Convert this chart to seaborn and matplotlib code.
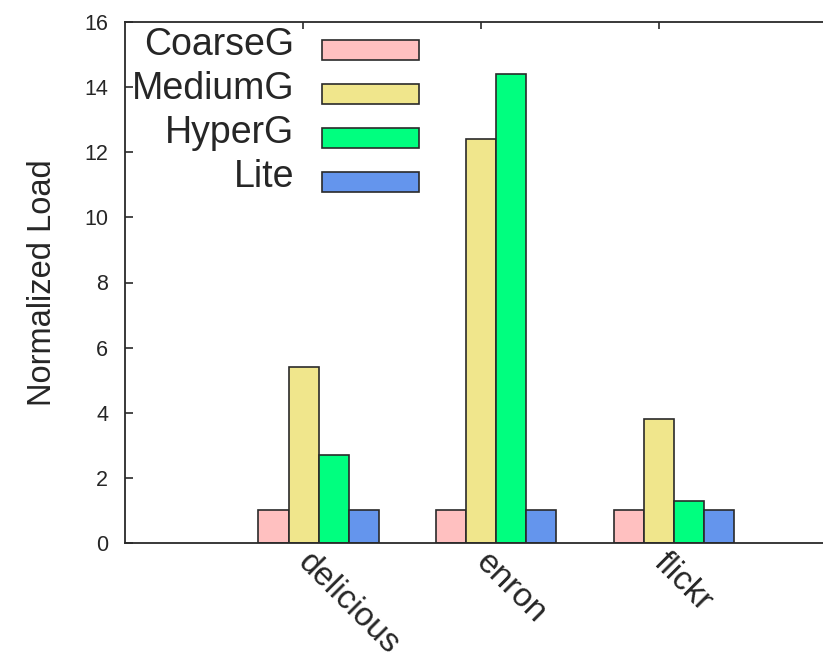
import numpy as np
import pandas as pd
import matplotlib
matplotlib.use("Agg")
import matplotlib.pyplot as plt
import matplotlib.patches as mpatches
from matplotlib.legend_handler import HandlerPatch
import seaborn as sns

# Normalized load per dataset for each partitioning scheme
datasets = ["delicious", "enron", "flickr"]
schemes = ["CoarseG", "MediumG", "HyperG", "Lite"]
coarse_g = [1.0, 1.0, 1.0]
medium_g = [5.4, 12.4, 3.8]
hyper_g = [2.7, 14.4, 1.3]
lite = [1.0, 1.0, 1.0]
colors = ["#FFC0C0", "#F0E68C", "#00FF7F", "#6495ED"]

values = {"CoarseG": coarse_g, "MediumG": medium_g, "HyperG": hyper_g, "Lite": lite}
df = pd.DataFrame(
    [(d, s, values[s][i]) for s in schemes for i, d in enumerate(datasets)],
    columns=["dataset", "scheme", "load"],
)

sns.set_style("white")
plt.rcParams["font.family"] = ["Liberation Sans", "DejaVu Sans"]

fig = plt.figure(figsize=(8.23, 6.64), dpi=100)
ax = fig.add_axes([125 / 823, 121 / 664, 1 - 125 / 823, 521 / 664])

edge = "#2a2a2a"
sns.barplot(
    data=df, x="dataset", y="load", hue="scheme",
    order=datasets, hue_order=schemes, palette=colors,
    width=0.676, edgecolor=edge, linewidth=1.2, saturation=1,
    legend=False, ax=ax,
)

ax.set_xlim(-1.089, 2.838)
ax.set_ylim(0, 16)
ax.set_yticks(np.arange(0, 17, 2))
ax.set_xticks(np.arange(len(datasets)) - 0.087)
ax.set_xticklabels(datasets, rotation=-45, ha="left", va="center",
                   rotation_mode="anchor", fontsize=24)
ax.set_xlabel("")
ax.set_ylabel("Normalized Load", fontsize=23.5, labelpad=19)

ax.tick_params(axis="x", bottom=False, top=True, direction="in",
               length=5, width=1.2, color=edge, labelbottom=True, pad=10.5)
ax.tick_params(axis="y", left=True, right=False, direction="in",
               length=6, width=1.2, color=edge, labelsize=15.5, pad=12)

for side in ["left", "top", "bottom"]:
    ax.spines[side].set_visible(True)
    ax.spines[side].set_color(edge)
    ax.spines[side].set_linewidth(1.3)
ax.spines["right"].set_visible(False)


def key_box(legend, orig_handle, xdescent, ydescent, width, height, fontsize):
    # flat key rectangle sitting slightly below the label baseline
    return mpatches.Rectangle((-xdescent, -ydescent - 3.6), width, 14.4)


handles = [mpatches.Patch(facecolor=c, edgecolor=edge, linewidth=1.2)
           for c in colors]
ax.legend(
    handles, schemes, loc="upper right",
    bbox_to_anchor=(419 / 823, 1 - 27 / 664), bbox_transform=fig.transFigure,
    frameon=False, markerfirst=False, fontsize=27,
    handlelength=2.6, handleheight=0.7, handletextpad=0.72,
    labelspacing=0.21, borderpad=0, borderaxespad=0,
    handler_map={mpatches.Patch: HandlerPatch(patch_func=key_box)},
)

fig.savefig("out.png", dpi=100)
